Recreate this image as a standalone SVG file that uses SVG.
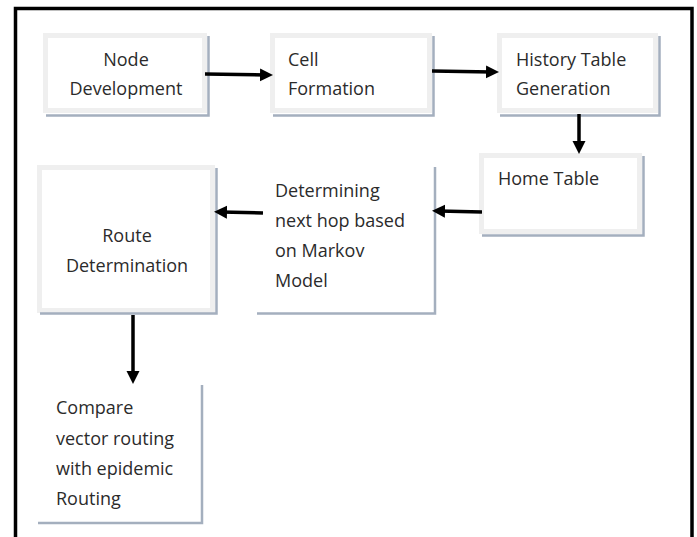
<svg xmlns="http://www.w3.org/2000/svg" width="697" height="537" viewBox="0 0 697 537">
<defs>
<style>
.box{fill:#ffffff;stroke:#efefef;stroke-width:5}
.shadow{fill:none;stroke:#a4afbe;stroke-width:2.5}
.t{font-family:"Open Sans","Liberation Sans",sans-serif;font-size:18px;fill:#2b2b2b}
.c{text-anchor:middle}
.conn line{stroke:#000;stroke-width:3.5;marker-end:url(#ah)}
</style>
<marker id="ah" markerUnits="userSpaceOnUse" markerWidth="14" markerHeight="14" refX="6" refY="7" orient="auto">
<path d="M0,0.5 L13,7 L0,13.5 Z" fill="#000"/>
</marker>
</defs>
<rect width="697" height="537" fill="#ffffff"/>
<path d="M15.5,540 L15.5,8.5 L692,8.5 L692,540" fill="none" stroke="#000" stroke-width="3.5"/>

<g id="node-development">
<rect class="box" x="45.5" y="35.5" width="159" height="75"/>
<polyline class="shadow" points="208.5,36 208.5,115.5 46,115.5"/>
<text class="t c" x="126" y="66">Node</text>
<text class="t c" x="126" y="95">Development</text>
</g>

<g id="cell-formation">
<rect class="box" x="272.5" y="35.5" width="157" height="75"/>
<polyline class="shadow" points="433.5,36 433.5,115.5 273,115.5"/>
<text class="t" x="288" y="66">Cell</text>
<text class="t" x="288" y="95">Formation</text>
</g>

<g id="history-table">
<rect class="box" x="499.5" y="35.5" width="156" height="75"/>
<polyline class="shadow" points="659.5,36 659.5,115.5 500,115.5"/>
<text class="t" x="516" y="66">History Table</text>
<text class="t" x="516" y="95">Generation</text>
</g>

<g id="home-table">
<rect class="box" x="481.5" y="155.5" width="158" height="76"/>
<polyline class="shadow" points="643.5,156 643.5,235.5 482,235.5"/>
<text class="t" x="498" y="185">Home Table</text>
</g>

<g id="markov">
<polyline class="shadow" points="435,167 435,313.5 257,313.5"/>
<text class="t" x="275" y="197">Determining</text>
<text class="t" x="275" y="227">next hop based</text>
<text class="t" x="275" y="257">on Markov</text>
<text class="t" x="275" y="287">Model</text>
</g>

<g id="route-determination">
<rect class="box" x="39.5" y="167.5" width="173" height="143"/>
<polyline class="shadow" points="216.5,168 216.5,313.5 40,313.5"/>
<text class="t c" x="127" y="242">Route</text>
<text class="t c" x="127" y="272">Determination</text>
</g>

<g id="compare">
<polyline class="shadow" points="202,385 202,523 38,523"/>
<text class="t" x="56" y="414">Compare</text>
<text class="t" x="56" y="445">vector routing</text>
<text class="t" x="56" y="475">with epidemic</text>
<text class="t" x="56" y="505">Routing</text>
</g>

<g id="connectors" class="conn">
<line x1="205" y1="74" x2="266" y2="75"/>
<line x1="432" y1="71" x2="492" y2="72"/>
<line x1="579" y1="114" x2="579" y2="147"/>
<line x1="482" y1="212" x2="439" y2="211"/>
<line x1="263" y1="213" x2="221" y2="212"/>
<line x1="133" y1="315" x2="133" y2="377"/>
</g>
</svg>
